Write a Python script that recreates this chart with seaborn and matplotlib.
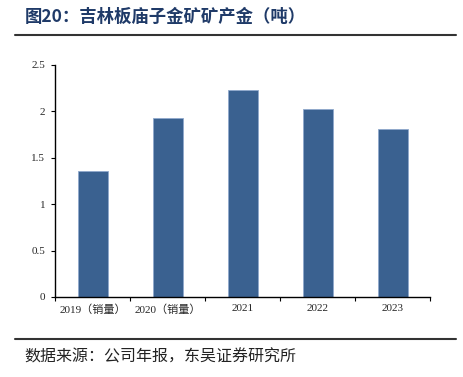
import matplotlib
matplotlib.use("Agg")
import matplotlib.pyplot as plt
import seaborn as sns
import pandas as pd
from matplotlib.lines import Line2D

categories = ["2019（销量）", "2020（销量）", "2021", "2022", "2023"]
values = [1.36, 1.93, 2.23, 2.03, 1.81]
yticks = [0, 0.5, 1, 1.5, 2, 2.5]
ytick_labels = ["0", "0.5", "1", "1.5", "2", "2.5"]

sns.set_theme(style="white")
plt.rcParams['font.family'] = ['Noto Sans CJK SC', 'DejaVu Sans']

df = pd.DataFrame({"cat": categories, "val": values})

W, H = 463, 377
fig = plt.figure(figsize=(W/100, H/100), dpi=100)
ax = fig.add_axes([55/W, 1-297/H, (430-55)/W, (297-65)/H])

sns.barplot(data=df, x="cat", y="val", ax=ax, color="#3A6190", width=0.4,
            saturation=1, edgecolor="#8FA9CC", linewidth=0.6)

ax.set_xlim(-0.5, 4.5)
ax.set_ylim(0, 2.5)
ax.set_yticks(yticks)
ax.set_yticklabels(ytick_labels, fontsize=8, family=['Liberation Serif', 'Noto Sans CJK SC'])
ax.set_xticks(range(len(categories)))
ax.set_xticklabels(categories, fontsize=8, family=['Liberation Serif', 'Noto Sans CJK SC'])
ax.set_xlabel("")
ax.set_ylabel("")
for s in ["top", "right"]:
    ax.spines[s].set_visible(False)
for s in ["left", "bottom"]:
    ax.spines[s].set_color("black")
    ax.spines[s].set_linewidth(1.0)
ax.tick_params(axis="y", which="major", length=3, width=0.8, color="black", direction="out", left=True, pad=4)
ax.tick_params(axis="x", which="major", length=0, pad=5)
ax.set_xticks([i - 0.5 for i in range(len(categories) + 1)], minor=True)
ax.tick_params(axis="x", which="minor", length=3, width=0.8, color="black", direction="out", bottom=True)
ax.grid(False)

fig.text(25/W, 1-17/H, "图20：吉林板庙子金矿矿产金（吨）", fontsize=12.5, fontweight="bold",
         color="#1F3A68", va="center", ha="left")
fig.add_artist(Line2D([15/W, 456/W], [1-34.5/H, 1-34.5/H], color="#333333", linewidth=1.5,
                      transform=fig.transFigure))
fig.add_artist(Line2D([15/W, 456/W], [1-339/H, 1-339/H], color="#333333", linewidth=1.5,
                      transform=fig.transFigure))
fig.text(24/W, 1-357/H, "数据来源：公司年报，东吴证券研究所", fontsize=11.5, color="#222222",
         va="center", ha="left")

fig.savefig("out.png", dpi=100)
